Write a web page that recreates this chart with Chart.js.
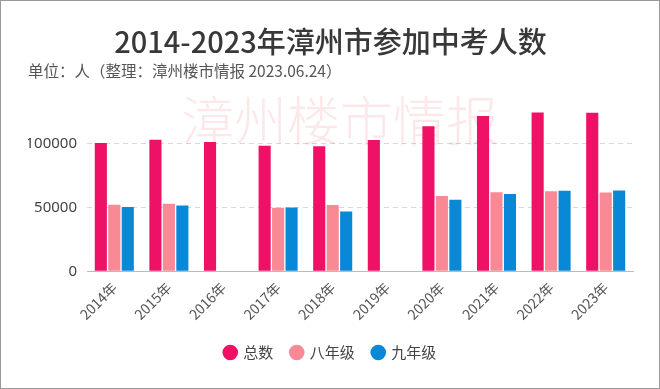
<!DOCTYPE html>
<html>
<head>
<meta charset="utf-8">
<script src="https://cdn.jsdelivr.net/npm/chart.js@4"></script>
<style>
  html, body { margin: 0; padding: 0; background: #fff; }
  #wrap { width: 658px; height: 387px; border: 1px solid #999; position: relative; }
</style>
</head>
<body>
<div id="wrap"><canvas id="kaochart"></canvas></div>
<script>
// 2014-2023 zhangzhou zhongkao numbers
var years = ["2014年", "2015年", "2016年", "2017年", "2018年", "2019年", "2020年", "2021年", "2022年", "2023年"];
var totalNum = [100500, 103100, 101300, 98400, 97900, 102900, 113600, 121600, 124500, 124200];
var grade8 = [52100, 52900, null, 49800, 52000, null, 58900, 62000, 62800, 61700];
var grade9 = [50300, 51600, null, 49900, 46900, null, 56000, 60500, 63000, 63300];
var yTicks = [0, 50000, 100000];

var fontCN = "'Noto Sans CJK SC', 'Noto Sans', sans-serif";

// light watermark behind the bars
var watermark = {
  id: 'watermark',
  beforeDatasetsDraw: function(chart) {
    var ctx = chart.ctx;
    ctx.save();
    ctx.font = "300 53px " + fontCN;
    ctx.fillStyle = "rgba(235,110,120,0.16)";
    ctx.textAlign = "center";
    ctx.textBaseline = "middle";
    ctx.fillText("漳州楼市情报", 339, 120);
    ctx.restore();
  }
};

var ctx = document.getElementById("kaochart").getContext("2d");
var kaochart = new Chart(ctx, {
  type: 'bar',
  data: {
    labels: years,
    datasets: [
      { label: "总数", data: totalNum, backgroundColor: "#ee1166" },
      { label: "八年级", data: grade8, backgroundColor: "#f98a95" },
      { label: "九年级", data: grade9, backgroundColor: "#0a88d8" }
    ]
  },
  options: {
    responsive: true,
    maintainAspectRatio: false,
    animation: false,
    layout: { padding: { left: 27, right: 26, top: 24, bottom: 18 } },
    datasets: { bar: { barPercentage: 0.9, categoryPercentage: 0.74 } },
    plugins: {
      title: {
        display: true,
        text: "2014-2023年漳州市参加中考人数",
        color: "#383838",
        font: { family: fontCN, size: 29, weight: '500' },
        padding: { top: 0, bottom: 2 }
      },
      subtitle: {
        display: true,
        text: "单位：人（整理：漳州楼市情报 2023.06.24）",
        align: 'start',
        color: "#555",
        font: { family: fontCN, size: 15.5 },
        padding: { top: 0, bottom: 25 }
      },
      legend: {
        position: 'bottom',
        labels: {
          usePointStyle: true,
          pointStyle: 'circle',
          boxWidth: 11,
          boxHeight: 11,
          padding: 18,
          color: "#444",
          font: { family: fontCN, size: 15 }
        }
      },
      tooltip: { enabled: false }
    },
    scales: {
      x: {
        grid: { display: false, drawTicks: true, tickLength: 4 },
        border: { color: "#bbb" },
        ticks: {
          minRotation: 45, maxRotation: 45,
          padding: 4,
          color: "#555",
          font: { family: fontCN, size: 14 }
        }
      },
      y: {
        min: 0,
        max: 130000,
        afterBuildTicks: function(axis) {
          axis.ticks = yTicks.map(function(v) { return { value: v }; });
        },
        afterFit: function(axis) { axis.width = 59; },
        border: { display: false, dash: [5, 4] },
        grid: { color: "#d8d8d8", drawTicks: false },
        ticks: {
          padding: 10,
          color: "#444",
          font: { family: "'Noto Sans', sans-serif", size: 15 },
          callback: function(v) { return String(v); }
        }
      }
    }
  },
  plugins: [watermark]
});
</script>
</body>
</html>
